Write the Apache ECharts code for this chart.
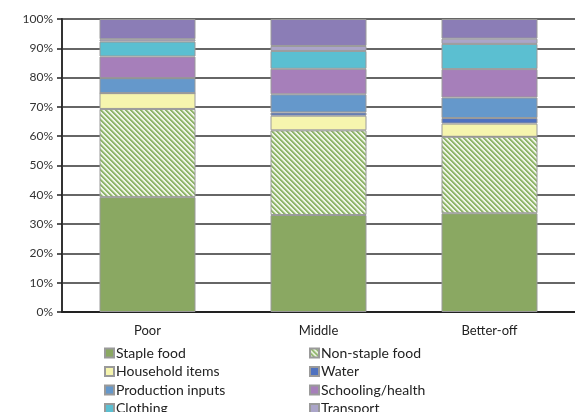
<!DOCTYPE html>
<html><head><meta charset="utf-8">
<script src="https://cdn.jsdelivr.net/npm/echarts@6/dist/echarts.min.js"></script>
<style>html,body{margin:0;padding:0;background:#fff}#c{width:575px;height:412px}</style>
</head><body><div id="c"></div>
<script>
const categories = ['Poor', 'Middle', 'Better-off'];
const stapleFood = [39.2, 33.1, 33.7];
const nonStapleFood = [30.1, 28.9, 26.1];
const householdItems = [5.4, 5.0, 4.5];
const water = [0, 1.1, 1.9];
const productionInputs = [5.1, 6.2, 7.0];
const schoolingHealth = [7.4, 8.7, 9.7];
const clothing = [5.1, 6.1, 8.6];
const transport = [0.8, 1.7, 1.8];
const other = [6.9, 9.2, 6.7];
const yTicks = [0, 10, 20, 30, 40, 50, 60, 70, 80, 90, 100];

function hatch() {
  const c = document.createElement('canvas');
  c.width = 5; c.height = 5;
  const g = c.getContext('2d');
  for (let x = 0; x < 5; x++) for (let y = 0; y < 5; y++) {
    const d = ((x - y) % 5 + 5) % 5;
    g.fillStyle = d < 2 ? '#8fb56b' : (d === 2 ? '#bcd3a0' : '#eef4e6');
    g.fillRect(x, y, 1, 1);
  }
  return { image: c, repeat: 'repeat' };
}

const font = 'Lato, "Open Sans", sans-serif';
const defs = [
  ['Staple food', stapleFood, '#8aa862'],
  ['Non-staple food', nonStapleFood, hatch()],
  ['Household items', householdItems, '#f6f5ae'],
  ['Water', water, '#4f72c0'],
  ['Production inputs', productionInputs, '#6598cb'],
  ['Schooling/health', schoolingHealth, '#a67fba'],
  ['Clothing', clothing, '#5bbfd1'],
  ['Transport', transport, '#aba5c9'],
  ['Other', other, '#8b7db6']
];
const series = defs.map(([name, data, color]) => ({
  name, type: 'bar', stack: 'all', data, barWidth: 96,
  itemStyle: { color, borderColor: '#9a9a9a', borderWidth: 1 },
  emphasis: { disabled: true }
}));

const chart = echarts.init(document.getElementById('c'), null, { renderer: 'canvas' });
const legendCommon = {
  orient: 'vertical', icon: 'rect', itemWidth: 9, itemHeight: 9, itemGap: 4.5, height: 200,
  textStyle: { fontFamily: font, fontSize: 14, color: '#222', padding: [0, 0, 0, -3] },
  selectedMode: false, padding: 0
};
chart.setOption({
  animation: false,
  grid: { left: 62, top: 19, width: 523, height: 293 },
  legend: [
    Object.assign({ left: 104, top: 346, data: ['Staple food', 'Household items', 'Production inputs', 'Clothing'] }, legendCommon),
    Object.assign({ left: 309, top: 346, data: ['Non-staple food', 'Water', 'Schooling/health', 'Transport'] }, legendCommon)
  ],
  xAxis: {
    type: 'category', data: categories,
    axisLine: { lineStyle: { color: '#222', width: 2 } },
    axisTick: { show: false },
    axisLabel: { fontFamily: font, fontSize: 13, color: '#222', margin: 12 }
  },
  yAxis: {
    type: 'value', min: 0, max: 100, interval: 10,
    axisLine: { show: true, lineStyle: { color: '#333', width: 2 } },
    axisTick: { show: true, length: 5, lineStyle: { color: '#222', width: 1.5 } },
    splitLine: { lineStyle: { color: '#333', width: 1.5 } },
    axisLabel: { fontFamily: font, fontSize: 12, color: '#333', margin: 9,
      formatter: v => yTicks.includes(v) ? v + '%' : '' }
  },
  series
});
</script></body></html>
